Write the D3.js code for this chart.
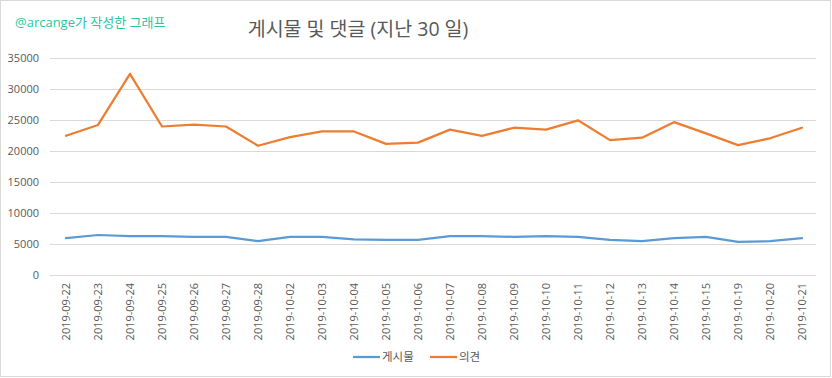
<!DOCTYPE html>
<html><head><meta charset="utf-8">
<script src="https://cdn.jsdelivr.net/npm/d3@7"></script>
<style>body{margin:0;background:#fff}svg{display:block}text{font-family:"Open Sans","Noto Sans CJK KR",sans-serif}</style>
</head><body><svg id="c" width="832" height="378"></svg>
<script>
const dates = ["2019-09-22","2019-09-23","2019-09-24","2019-09-25","2019-09-26","2019-09-27","2019-09-28","2019-10-02","2019-10-03","2019-10-04","2019-10-05","2019-10-06","2019-10-07","2019-10-08","2019-10-09","2019-10-10","2019-10-11","2019-10-12","2019-10-13","2019-10-14","2019-10-15","2019-10-19","2019-10-20","2019-10-21"];
const posts = [6000,6500,6300,6300,6200,6200,5500,6200,6200,5800,5700,5700,6300,6300,6200,6300,6200,5700,5500,6000,6200,5400,5500,6000];
const comments = [22500,24250,32500,24000,24300,24000,20900,22300,23200,23200,21200,21400,23500,22500,23800,23500,25000,21800,22200,24700,22900,21000,22100,23800];
const yTicks = [0,5000,10000,15000,20000,25000,30000,35000];
const seriesNames = ["게시물","의견"];
const colors = ["#5b9bd5","#ed7d31"];
const title = "게시물 및 댓글 (지난 30 일)";
const credit = "@arcange가 작성한 그래프";
</script>
<script>
const svg = d3.select("#c");
svg.append("rect").attr("x",0.5).attr("y",0.5).attr("width",830).attr("height",376)
  .attr("fill","#fff").attr("stroke","#d9d9d9");
const L=50,R=818,T=58.3,B=275.3;
const x = d3.scaleBand().domain(dates).range([L,R]);
const y = d3.scaleLinear().domain([0,35000]).range([B,T]);
const g = svg.append("g");
g.selectAll("line.grid").data(yTicks).join("line").attr("class","grid")
  .attr("x1",L).attr("x2",816).attr("y1",d=>Math.round(y(d))+0.5).attr("y2",d=>Math.round(y(d))+0.5)
  .attr("stroke","#d9d9d9").attr("stroke-width",1);
g.selectAll("text.yt").data(yTicks).join("text").attr("class","yt")
  .attr("x",39).attr("y",d=>y(d)).attr("dy","0.35em").attr("text-anchor","end")
  .attr("font-size",11).attr("fill","#595959").text(d=>d);
g.selectAll("text.xt").data(dates).join("text").attr("class","xt")
  .attr("transform",d=>`translate(${x(d)+x.bandwidth()/2+4},283) rotate(-90)`)
  .attr("text-anchor","end").attr("font-size",11).attr("fill","#595959").text(d=>d);
const line = d3.line().x((d,i)=>x(dates[i])+x.bandwidth()/2).y(d=>y(d));
[posts,comments].forEach((s,k)=>{
  g.append("path").datum(s).attr("d",line).attr("fill","none")
   .attr("stroke",colors[k]).attr("stroke-width",2.25).attr("stroke-linejoin","round").attr("stroke-linecap","round");
});
svg.append("text").attr("x",358).attr("y",36).attr("text-anchor","middle")
  .attr("font-size",19.5).attr("fill","#595959").text(title);
svg.append("text").attr("x",15).attr("y",27).attr("font-size",13).attr("fill","#2cc5a2").text(credit);
const lg = svg.append("g");
const lx=[353,430];
seriesNames.forEach((n,k)=>{
  lg.append("line").attr("x1",lx[k]).attr("x2",lx[k]+27).attr("y1",357).attr("y2",357)
    .attr("stroke",colors[k]).attr("stroke-width",2.25);
  lg.append("text").attr("x",lx[k]+29).attr("y",357).attr("dy","0.35em").attr("font-size",11.5)
    .attr("fill","#595959").text(n);
});
</script></body></html>
